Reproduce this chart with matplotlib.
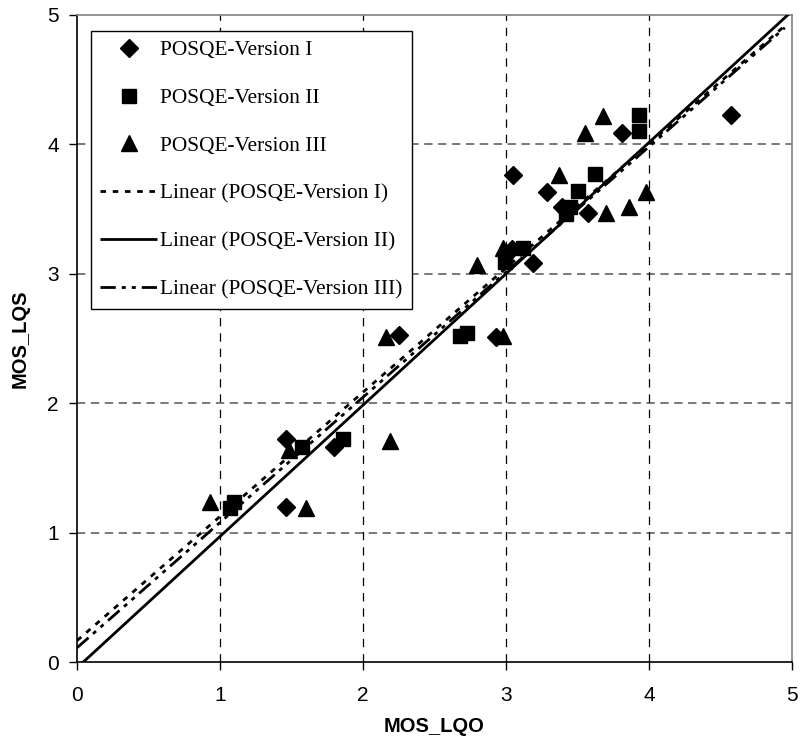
import matplotlib
matplotlib.use("Agg")
import matplotlib.pyplot as plt
import numpy as np

# MOS_LQO (x) vs MOS_LQS (y) for three POSQE versions
v1_lqo = [1.46, 1.46, 1.80, 2.25, 2.93, 3.04, 3.05, 3.19, 3.29, 3.39, 3.57, 3.81, 4.57]
v1_lqs = [1.72, 1.20, 1.66, 2.53, 2.51, 3.19, 3.76, 3.08, 3.63, 3.52, 3.47, 4.09, 4.23]

v2_lqo = [1.07, 1.10, 1.57, 1.86, 2.68, 2.73, 2.99, 3.12, 3.42, 3.45, 3.50, 3.62, 3.93, 3.93]
v2_lqs = [1.19, 1.24, 1.66, 1.72, 2.52, 2.54, 3.09, 3.20, 3.46, 3.52, 3.64, 3.77, 4.10, 4.23]

v3_lqo = [0.93, 1.48, 1.60, 2.16, 2.19, 2.80, 2.98, 2.98, 3.37, 3.55, 3.68, 3.70, 3.86, 3.98]
v3_lqs = [1.24, 1.64, 1.19, 2.51, 1.71, 3.07, 2.52, 3.20, 3.76, 4.09, 4.22, 3.47, 3.52, 3.63]

# linear trendlines: slope, intercept, x-extent
trend_slope = [0.960, 1.015, 0.968]
trend_icept = [0.165, -0.045, 0.110]
trend_xend = [4.95, 5.0, 4.95]

labels = ["POSQE-Version I", "POSQE-Version II", "POSQE-Version III"]
trend_labels = ["Linear (POSQE-Version I)", "Linear (POSQE-Version II)",
                "Linear (POSQE-Version III)"]
ticks = [0, 1, 2, 3, 4, 5]

plt.rcParams["lines.scale_dashes"] = False
sans = ["Liberation Sans", "DejaVu Sans"]
serif = ["Liberation Serif", "DejaVu Serif"]

fig = plt.figure(figsize=(8.0, 7.45), dpi=100)
ax = fig.add_axes([77 / 800, 1 - 662 / 745, 715 / 800, 647 / 745])
ax.set_xlim(0, 5)
ax.set_ylim(0, 5)

# grid
for t in ticks[1:-1]:
    ax.axvline(t, color="black", lw=0.9, dashes=(6, 5), zorder=1)
    ax.axhline(t, color="#6e6e6e", lw=1.3, dashes=(6, 4), zorder=1)

mk = dict(color="black", linestyle="none", zorder=3)
h1, = ax.plot(v1_lqo, v1_lqs, marker="D", markersize=9.5, label=labels[0], **mk)
h2, = ax.plot(v2_lqo, v2_lqs, marker="s", markersize=10.5, label=labels[1], **mk)
h3, = ax.plot(v3_lqo, v3_lqs, marker="^", markersize=12, label=labels[2], **mk)

styles = [dict(dashes=(4.0, 4.8)),
          dict(linestyle="-"),
          dict(dashes=(11.0, 4.3, 2.9, 4.3, 2.9, 4.3))]
handles = [h1, h2, h3]
for k in range(3):
    xs = np.array([0.0, trend_xend[k]])
    ys = trend_slope[k] * xs + trend_icept[k]
    h, = ax.plot(xs, ys, color="black", lw=2.0, label=trend_labels[k],
                 zorder=4, solid_capstyle="butt", dash_capstyle="butt", **styles[k])
    handles.append(h)

# spines and ticks
ax.spines["left"].set_color("black")
ax.spines["bottom"].set_color("black")
ax.spines["top"].set_color("#808080")
ax.spines["right"].set_color("#808080")
for s in ax.spines.values():
    s.set_linewidth(1.2)
ax.set_xticks(ticks)
ax.set_yticks(ticks)
ax.tick_params(axis="both", direction="out", length=6, width=1.0, labelsize=15)
ax.tick_params(axis="x", pad=11)
ax.tick_params(axis="y", pad=7)
for lab in ax.get_xticklabels() + ax.get_yticklabels():
    lab.set_family(sans)

ax.set_xlabel("MOS_LQO", fontsize=14.5, fontweight="bold", family=sans, labelpad=9)
ax.set_ylabel("MOS_LQS", fontsize=14.5, fontweight="bold", family=sans, labelpad=13)

leg = ax.legend(handles=handles, loc="upper left",
                bbox_to_anchor=(13.7 / 715, 631.3 / 647), borderaxespad=0,
                prop={"family": serif, "size": 15.4}, frameon=True, fancybox=False,
                edgecolor="black", framealpha=1, labelspacing=1.3,
                handlelength=2.65, handletextpad=0.12, borderpad=0.45,
                numpoints=1)
leg.get_frame().set_linewidth(1.0)
leg.set_zorder(5)

fig.savefig("out.png", dpi=100)
